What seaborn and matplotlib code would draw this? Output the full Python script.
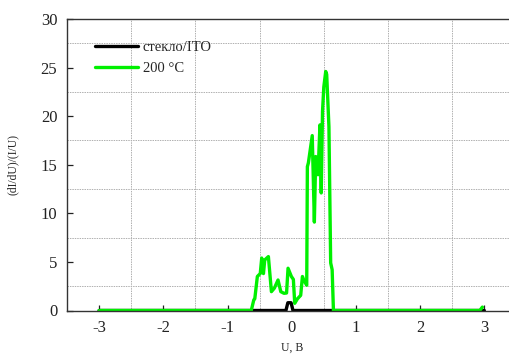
import matplotlib
matplotlib.use("Agg")
import matplotlib.pyplot as plt
import seaborn as sns
import numpy as np

# Differential conductance (dI/dU)/(I/U) versus bias U
u_ito = [-3.0, -0.09, -0.06, -0.01, 0.02, 3.0]
g_ito = [0.0, 0.0, 0.8, 0.8, 0.0, 0.0]

u_200 = [-3.0, -0.63, -0.59, -0.575, -0.535, -0.49, -0.467, -0.44, -0.42,
         -0.363, -0.316, -0.27, -0.213, -0.17, -0.12, -0.08, -0.057, -0.005,
         0.026, 0.047, 0.089, 0.14, 0.167, 0.19, 0.234, 0.244, 0.26, 0.32,
         0.353, 0.374, 0.41, 0.44, 0.46, 0.48, 0.50, 0.53, 0.545, 0.58,
         0.607, 0.63, 0.65, 2.93, 2.97]
g_200 = [0.0, 0.0, 1.1, 1.2, 3.5, 3.8, 5.4, 3.8, 5.2,
         5.55, 1.94, 2.3, 3.14, 1.94, 1.77, 1.8, 4.35, 3.5,
         3.2, 0.74, 1.2, 1.56, 3.5, 3.1, 2.6, 14.8, 15.2, 18.0,
         9.1, 15.85, 13.97, 19.1, 12.1, 20.5, 23.0, 24.6, 24.3, 18.9,
         4.9, 4.2, 0.0, 0.0, 0.35]

labels = ["стекло/ITO", "200 °C"]
x_ticks = [-3, -2, -1, 0, 1, 2, 3]
y_ticks = [0, 5, 10, 15, 20, 25, 30]

sns.set_style("ticks")
plt.rcParams["font.family"] = ["Liberation Serif", "DejaVu Serif"]

fig = plt.figure(figsize=(5.09, 3.55), dpi=100)
ax = fig.add_axes([67 / 509, 44.5 / 355, 449.4 / 509, 291.5 / 355])

sns.lineplot(x=u_ito, y=g_ito, ax=ax, color="black", lw=2.4, sort=False,
             estimator=None, label=labels[0])
sns.lineplot(x=u_200, y=g_200, ax=ax, color="#00f000", lw=2.4, sort=False,
             estimator=None, label=labels[1])

ax.set_xlim(-3.5, 3.5)
ax.set_ylim(0, 30)
ax.set_xticks(x_ticks)
ax.set_xticklabels([str(t) for t in x_ticks])
ax.set_yticks(y_ticks)
ax.set_xticks(np.arange(-2.5, 3.0, 1.0), minor=True)
ax.set_yticks(np.arange(2.5, 30, 5.0), minor=True)
ax.grid(which="minor", color="#b0b0b0", lw=0.7, ls=(0, (1.5, 1)))
ax.grid(which="major", visible=False)
ax.tick_params(which="major", direction="in", length=4, width=0.9,
               labelsize=12, colors="#222222", pad=7)
ax.tick_params(which="minor", length=0)

for side in ["left", "bottom", "top", "right"]:
    ax.spines[side].set_color("#333333")
    ax.spines[side].set_linewidth(1.0)

ax.set_xlabel("U, В", fontsize=8.5, labelpad=4)
ax.set_ylabel("(dI/dU)/(I/U)", fontsize=8.5, labelpad=16)

leg = ax.legend(loc="upper left", bbox_to_anchor=(0.05, 0.945), frameon=False,
                fontsize=10.5, handlelength=2.9, handletextpad=0.35,
                labelspacing=0.55, borderaxespad=0)

fig.savefig("out.png", dpi=100)
